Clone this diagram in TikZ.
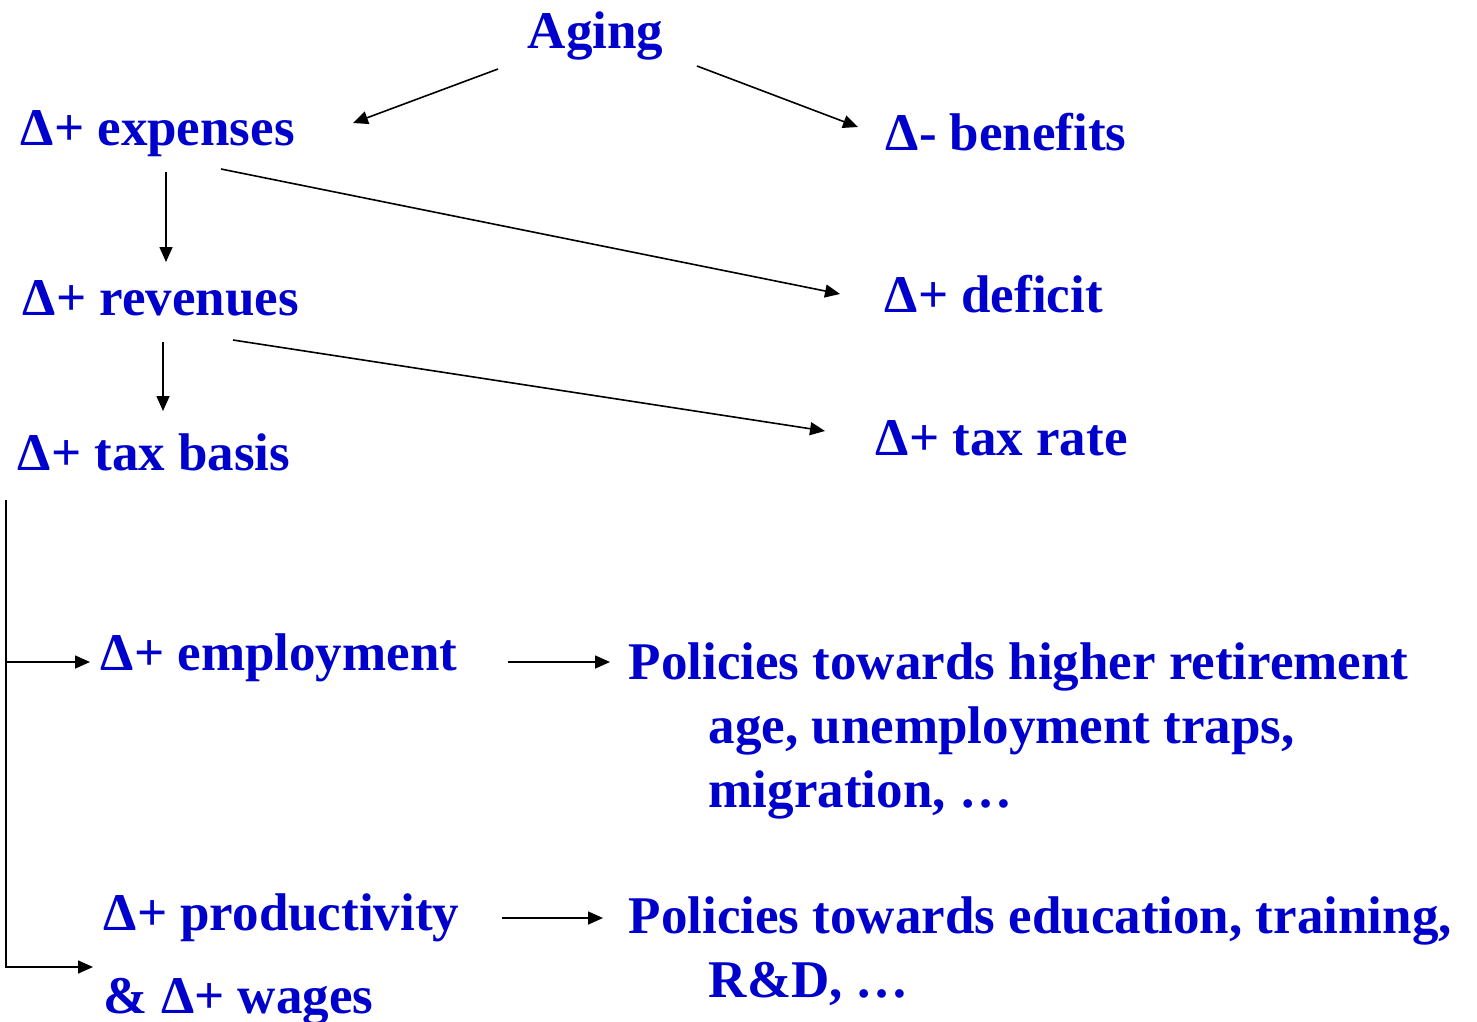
\documentclass[tikz,border=0pt]{standalone}
\usepackage{fontspec}
\setmainfont{Liberation Serif}
\usetikzlibrary{arrows.meta, calc}
\definecolor{deepblue}{RGB}{0,0,204}
\tikzset{>={Triangle[length=15pt,width=13pt]}}

\begin{document}
\begin{tikzpicture}[x=1pt, y=-1pt, line width=1.6pt,
    lbl/.style={anchor=base west, inner sep=0pt, text=deepblue, align=left,
      font=\fontsize{53}{64}\selectfont\bfseries}]
  \useasboundingbox (0,0) rectangle (1477,1021);

  % the chain of effects
  \node[lbl] (aging) at (527,48) {Aging};
  \node[lbl] (expenses) at (20,145) {Δ+ expenses};
  \node[lbl] (benefits) at (885,150) {Δ- benefits};
  \node[lbl] (revenues) at (22,315) {Δ+ revenues};
  \node[lbl] (deficit) at (884,312) {Δ+ deficit};
  \node[lbl] (taxbasis) at (17,470) {Δ+ tax basis};
  \node[lbl] (taxrate) at (875,455) {Δ+ tax rate};
  \node[lbl] (employment) at (100,670) {Δ+ employment};
  \node[lbl] (productivity) at (103,930) {Δ+ productivity};
  \node[lbl] (wages) at (103,1013) {\& Δ+ wages};
  % multi-line nodes sit on their last line
  \node[lbl] (policyemp) at (628,807) {Policies towards higher retirement\\
    \hspace*{80pt}age, unemployment traps,\\
    \hspace*{80pt}migration, …};
  \node[lbl] (policyprod) at (628,997) {Policies towards education, training,\\
    \hspace*{80pt}R\&D, …};

  \draw[->] ($(aging.base west)+(-29,21)$) -- ($(expenses.base west)+(333,-22)$);
  \draw[->] ($(aging.base west)+(170,18)$) -- ($(benefits.base west)+(-27,-23)$);
  \draw[->] ($(expenses.base west)+(146,27)$) -- ($(revenues.base west)+(144,-53)$);
  \draw[->] ($(expenses.base west)+(201,24)$) -- ($(deficit.base west)+(-44,-18)$);
  \draw[->] ($(revenues.base west)+(141,27)$) -- ($(taxbasis.base west)+(146,-59)$);
  \draw[->] ($(revenues.base west)+(211,25)$) -- ($(taxrate.base west)+(-50,-24)$);

  % tax basis splits in two
  \coordinate (trunk) at ($(taxbasis.base west)+(-11,30)$);
  \coordinate (empin) at ($(employment.base west)+(-10,-8)$);
  \draw[->] (trunk) |- ($(wages.base west)+(-10,-46)$);
  \draw[->] (trunk |- empin) -- (empin);

  \draw[->] ($(employment.base west)+(408,-8)$) -- ($(policyemp.base west)+(-18,-145)$);
  \draw[->] ($(productivity.base west)+(399,-12)$) -- ($(policyprod.base west)+(-25,-79)$);
\end{tikzpicture}
\end{document}
